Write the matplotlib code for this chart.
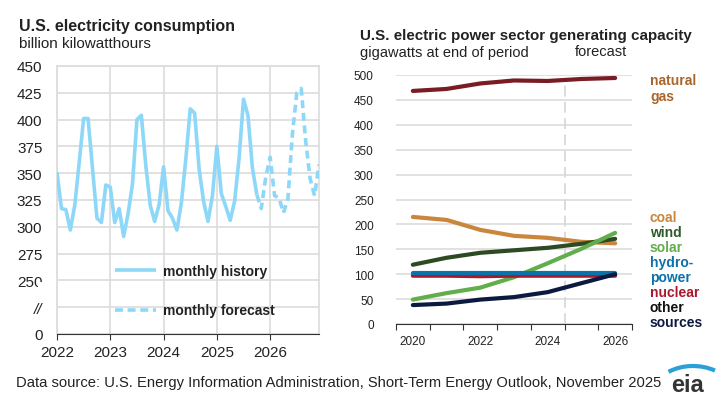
import matplotlib
matplotlib.use("Agg")
import matplotlib.pyplot as plt
from matplotlib.patches import Rectangle, Arc
import numpy as np

plt.rcParams['font.family'] = ['Liberation Sans', 'DejaVu Sans']

# left panel: monthly consumption, Jan 2022 .. Dec 2026
history = [351, 317, 316, 297, 320, 360, 401, 401, 354, 308, 304, 339,
           337, 304, 317, 291, 312, 340, 400, 404, 357, 320, 305, 321,
           356, 315, 308, 297, 322, 363, 410, 406, 354, 324, 305, 329,
           375, 331, 319, 306, 324, 364, 419, 404, 355, 330]
forecast = [330, 317, 346, 365, 329, 327, 313, 326, 386, 425, 429, 380, 345, 329, 358]
year_ticks = [2022, 2023, 2024, 2025, 2026]
y_ticks = [200, 225, 250, 275, 300, 325, 350, 375, 400, 425, 450]
y_labels = ['0', '//', '250', '275', '300', '325', '350', '375', '400', '425', '450']

# right panel: capacity at end of year
cap_years = [2020, 2021, 2022, 2023, 2024, 2025, 2026]
natural_gas = [468, 472, 483, 489, 488, 492, 494]
coal = [215, 209, 189, 177, 173, 165, 162]
wind = [119, 133, 143, 148, 153, 161, 171]
solar = [49, 62, 73, 94, 122, 151, 183]
hydro = [102, 102, 102, 102, 102, 102, 102]
nuclear = [97, 97, 96, 97, 97, 97, 97]
other = [38, 41, 49, 54, 64, 82, 100]

W, H = 716, 406
fig = plt.figure(figsize=(W / 100, H / 100), dpi=100)

def px(x, y):
    return x / W, 1 - y / H

blue = '#8dd8f8'
grid = '#dcdcdc'

# ---- left chart
ax1 = fig.add_axes([57 / W, 1 - 335 / H, 262 / W, 268 / H])
t_hist = 2022 + np.arange(len(history)) / 12
t_fc = 2022 + (len(history) - 1 + np.arange(len(forecast))) / 12
ax1.plot(t_hist, history, color=blue, lw=2.6, solid_capstyle='butt', label='monthly history', zorder=3)
ax1.plot(t_fc, forecast, color=blue, lw=2.6, ls=(0, (2.2, 1.3)), label='monthly forecast', zorder=3)
ax1.set_xlim(2022, 2022 + 59 / 12)
ax1.set_ylim(200, 450)
ax1.set_xticks(year_ticks)
ax1.set_xticklabels([str(y) for y in year_ticks], fontsize=11, color='#222222')
ax1.set_yticks(y_ticks)
ax1.set_yticklabels(y_labels, fontsize=11, color='#222222')
ax1.get_yticklabels()[1].set_style('italic')
ax1.tick_params(axis='y', length=0, pad=10.5)
ax1.tick_params(axis='x', length=4, color='#333333', pad=4)
ax1.grid(True, color=grid, lw=1.2)
for s in ['top', 'right', 'left']:
    ax1.spines[s].set_color(grid)
    ax1.spines[s].set_linewidth(1.2)
ax1.spines['bottom'].set_color('#333333')
leg = ax1.legend(loc='upper left', bbox_to_anchor=(0.22, 0.262), frameon=False,
                 handlelength=3.0, handletextpad=0.45, labelspacing=1.85,
                 borderpad=0, borderaxespad=0, prop={'weight': 'bold', 'size': 10})
for t in leg.get_texts():
    t.set_color('#222222')
# clipped label under the axis break
fig.patches.append(Rectangle(px(38, 291), 18 / W, 8 / H, transform=fig.transFigure,
                             facecolor='white', edgecolor='none', zorder=10))

fig.text(*px(19, 27), 'U.S. electricity consumption', fontsize=11.5, weight='bold',
         color='#222222', va='center')
fig.text(*px(19, 44), 'billion kilowatthours', fontsize=11, color='#222222', va='center')

# ---- right chart
ax2 = fig.add_axes([396 / W, 1 - 325 / H, 236 / W, 249 / H])
series = [
    (natural_gas, '#7a1c24'),
    (coal, '#c9863d'),
    (wind, '#2e4a22'),
    (solar, '#62ae4d'),
    (nuclear, '#a8192e'),
    (hydro, '#0b72aa'),
    (other, '#0d1a40'),
]
xi = np.arange(len(cap_years))
for vals, c in series:
    ax2.plot(xi, vals, color=c, lw=3.0, solid_capstyle='round', clip_on=False, zorder=3)
ax2.set_xlim(-0.5, 6.5)
ax2.set_ylim(0, 500)
ax2.set_yticks(range(0, 501, 50))
ax2.set_xticks(np.arange(-0.5, 7, 1))
ax2.set_xticklabels([])
ax2.set_xticks(xi[::2], minor=True)
ax2.set_xticklabels([str(y) for y in cap_years[::2]], minor=True, fontsize=8.5, color='#222222')
ax2.tick_params(axis='x', which='major', length=4, color='#333333', direction='out')
ax2.tick_params(axis='x', which='minor', length=0, pad=8)
ax2.grid(True, axis='y', color=grid, lw=1.2)
ax2.set_axisbelow(True)
for s in ['top', 'right', 'left']:
    ax2.spines[s].set_visible(False)
ax2.spines['bottom'].set_color('#333333')
ax2.yaxis.set_tick_params(length=0, labelsize=8.5, labelcolor='#222222', pad=16)
ax2.vlines(4.5, 0, 493, color='#d9d9d9', lw=1.3, ls=(0, (6, 3)), zorder=2)

fig.text(*px(360, 36), 'U.S. electric power sector generating capacity', fontsize=10.9,
         weight='bold', color='#222222', va='center')
fig.text(*px(360, 53), 'gigawatts at end of period', fontsize=10.5, color='#222222', va='center')
fig.text(*px(575, 52), 'forecast', fontsize=10.5, color='#222222', va='center')

labels = [
    ('natural', 81, '#a9652a'), ('gas', 97, '#a9652a'),
    ('coal', 218, '#c9863d'), ('wind', 233, '#2f5a2a'), ('solar', 248, '#62ae4d'),
    ('hydro-', 263, '#0b72aa'), ('power', 278, '#0b72aa'), ('nuclear', 293, '#a8192e'),
    ('other', 308, '#111111'), ('sources', 323, '#0d1a40'),
]
for txt, y, c in labels:
    fig.text(*px(650, y), txt, fontsize=10, weight='bold', color=c, va='center')

# ---- footer
fig.text(*px(16, 383), 'Data source: U.S. Energy Information Administration, Short-Term Energy Outlook, November 2025',
         fontsize=10.6, color='#222222', va='center')
fig.text(*px(671, 386), 'eia', fontsize=17, weight='bold', color='#333333', va='center')
fig.patches.append(Arc(px(693, 395), 80 / W, 56 / H, theta1=62, theta2=122,
                       transform=fig.transFigure, color='#2a9fd8', lw=3))

fig.savefig('out.png', dpi=100)
